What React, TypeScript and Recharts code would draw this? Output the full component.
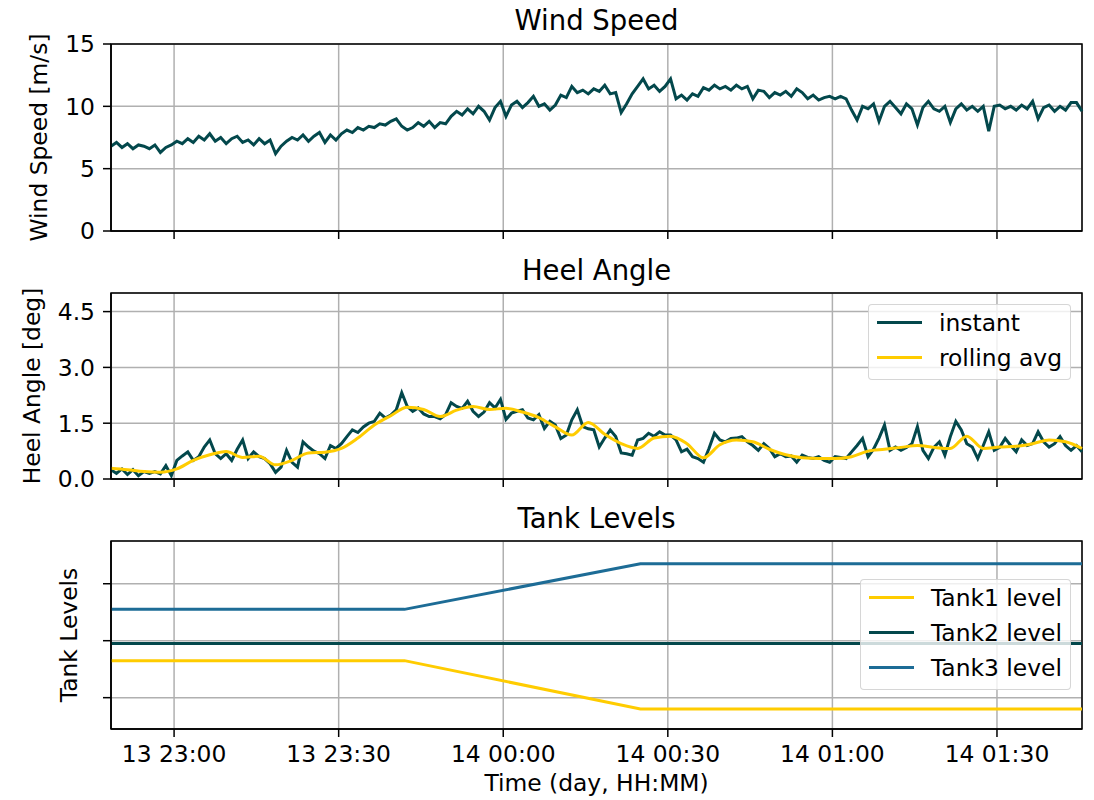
import {
    LineChart,
    Line,
    XAxis,
    YAxis,
    CartesianGrid,
    ReferenceArea,
    Legend
} from "recharts";

// time is in minutes counted from 13 00:00, one sample per minute
const T0 = 1368.5;
const T1 = 1545.5;
const timeTicks = [1380, 1410, 1440, 1470, 1500, 1530];

const windSpeed = [
    6.8, 7.1, 6.7, 7.0, 6.6, 6.9, 6.8, 6.6, 6.9, 6.3,
    6.7, 6.9, 7.2, 7.0, 7.4, 7.1, 7.6, 7.3, 7.8, 7.2,
    7.5, 7.0, 7.4, 7.6, 7.1, 7.3, 6.9, 7.4, 7.0, 7.3,
    6.2, 6.8, 7.2, 7.5, 7.3, 7.7, 7.2, 7.6, 7.9, 7.1,
    7.7, 7.3, 7.8, 8.1, 7.9, 8.3, 8.1, 8.4, 8.3, 8.6,
    8.5, 8.8, 9.0, 8.4, 8.1, 8.3, 8.7, 8.4, 8.8, 8.3,
    8.7, 8.6, 9.2, 9.6, 9.3, 9.8, 9.4, 10.0, 9.6, 8.9,
    9.9, 10.4, 9.2, 10.1, 10.4, 9.9, 10.3, 10.8, 10.0, 10.2,
    9.7, 10.1, 10.9, 10.7, 11.6, 11.1, 11.3, 11.0, 11.4, 11.2,
    11.7, 11.0, 11.1, 9.5, 10.2, 11.0, 11.6, 12.2, 11.4, 11.7,
    11.2, 11.6, 12.2, 10.6, 10.9, 10.5, 11.0, 10.8, 11.5, 11.3,
    11.7, 11.4, 11.6, 11.3, 11.7, 11.4, 11.6, 10.6, 11.3, 11.2,
    10.7, 11.1, 10.9, 11.2, 10.8, 11.4, 11.1, 10.6, 10.9, 10.5,
    10.7, 10.8, 10.6, 10.8, 10.6, 9.7, 8.9, 10.0, 9.8, 10.2,
    8.8, 10.0, 10.4, 9.9, 9.4, 10.2, 9.8, 8.5, 9.9, 10.4,
    9.8, 9.6, 10.0, 8.7, 9.8, 10.2, 9.7, 10.0, 9.6, 10.0,
    8.0, 10.0, 10.1, 9.8, 10.0, 9.7, 10.1, 9.8, 10.4, 9.0,
    9.9, 10.1, 9.6, 10.0, 9.7, 10.3, 10.3, 9.6
];

const heelInstant = [
    0.25, 0.15, 0.27, 0.12, 0.25, 0.09, 0.2, 0.15, 0.2, 0.14,
    0.36, 0.09, 0.5, 0.62, 0.73, 0.5, 0.6, 0.86, 1.05, 0.68,
    0.55, 0.68, 0.5, 0.8, 1.05, 0.55, 0.73, 0.6, 0.55, 0.41,
    0.18, 0.32, 0.77, 0.45, 0.32, 1.0, 0.86, 0.75, 0.68, 0.55,
    0.9, 0.82, 0.95, 1.14, 1.32, 1.25, 1.4, 1.5, 1.55, 1.77,
    1.64, 1.72, 1.86, 2.32, 1.95, 1.82, 1.91, 1.75, 1.68, 1.68,
    1.62, 1.73, 2.05, 1.95, 1.9, 2.09, 1.82, 1.68, 1.8, 2.05,
    1.91, 2.14, 1.6, 1.77, 1.82, 1.86, 1.64, 1.59, 1.73, 1.36,
    1.55, 1.45, 1.09, 1.18, 1.59, 1.86, 1.41, 1.35, 1.32, 0.86,
    1.1, 1.32, 1.14, 0.7, 0.68, 0.64, 1.05, 1.09, 1.23, 1.15,
    1.27, 1.18, 1.18, 1.05, 0.73, 0.8, 0.6, 0.55, 0.45, 0.82,
    1.23, 1.05, 1.0, 1.09, 1.1, 1.14, 1.0, 0.9, 0.77, 0.95,
    0.82, 0.6, 0.68, 0.6, 0.62, 0.45, 0.64, 0.58, 0.55, 0.6,
    0.5, 0.45, 0.6, 0.58, 0.55, 0.73, 0.9, 1.09, 0.6, 0.8,
    1.1, 1.45, 0.77, 0.86, 0.77, 0.85, 0.95, 1.41, 0.77, 0.55,
    0.85, 1.0, 0.64, 1.14, 1.55, 1.32, 0.95, 0.86, 0.55, 0.9,
    1.27, 0.77, 0.85, 1.09, 0.9, 0.73, 1.05, 0.9, 0.95, 1.27,
    1.0, 0.86, 0.95, 1.14, 0.9, 0.77, 0.9, 0.73
];

// rolling average, one value every 3 minutes
const heelRolling = [
    0.29, 0.25, 0.2, 0.18, 0.27, 0.5, 0.65, 0.74, 0.58, 0.61,
    0.38, 0.5, 0.7, 0.72, 0.82, 1.1, 1.45, 1.7, 1.93, 1.87,
    1.68, 1.85, 1.95, 1.87, 1.9, 1.8, 1.65, 1.4, 1.18, 1.52,
    1.2, 0.95, 0.82, 1.1, 1.15, 0.95, 0.57, 0.92, 1.05, 1.0,
    0.8, 0.65, 0.57, 0.55, 0.55, 0.6, 0.75, 0.8, 0.85, 0.9,
    0.85, 0.82, 1.15, 0.82, 0.86, 0.88, 0.95, 1.05, 1.0, 0.82
];

const tankTimes = [1368.5, 1422, 1465, 1545.5];
const tank1 = [33, 33, 16, 16];
const tank2 = [39, 39, 39, 39];
const tank3 = [51, 51, 67, 67];

const windTicks = [0, 5, 10, 15];
const heelTicks = [0, 1.5, 3, 4.5];
const tankTicks = [20, 40, 60];

const sampleRows = windSpeed.map((w, i) => ({ t: T0 + i, wind: w, heel: heelInstant[i] }));
const rollingRows = heelRolling.map((v, i) => ({ t: T0 + 3 * i, avg: v }));
const tankRows = tankTimes.map((t, i) => ({ t, tank1: tank1[i], tank2: tank2[i], tank3: tank3[i] }));

const FONT = '"DejaVu Sans", sans-serif';
const TEXT_SIZE = 23.4;
const TITLE_SIZE = 27.5;
const TEAL = "#03484c";
const YELLOW = "#ffcc00";
const BLUE = "#1d6c96";
const W = 1094;

const tickStyle = { fill: "#000", fontSize: TEXT_SIZE, fontFamily: FONT };
const lineStyle = { stroke: "#000", strokeWidth: 1.5 };

function timeLabel(m: number) {
    const day = 13 + Math.floor(m / 1440);
    const mins = m % 1440;
    const hh = String(Math.floor(mins / 60)).padStart(2, "0");
    const mm = String(mins % 60).padStart(2, "0");
    return `${day} ${hh}:${mm}`;
}

function LegendBox(props: any) {
    const { payload } = props;
    return (
        <div style={{
            background: "rgba(255,255,255,0.8)",
            border: "1.5px solid rgba(204,204,204,0.8)",
            borderRadius: 4,
            padding: "0 8px 4px 8px",
            fontFamily: FONT,
            fontSize: TEXT_SIZE,
            color: "#000",
            whiteSpace: "nowrap"
        }}>
            {(payload || []).map((entry: any) => (
                <div key={entry.value} style={{ display: "flex", alignItems: "center", height: 35 }}>
                    <span style={{ display: "inline-block", width: 45, height: 3, background: entry.color, marginRight: 17 }} />
                    <span>{entry.value}</span>
                </div>
            ))}
        </div>
    );
}

function timeAxis(showLabels: boolean, height: number) {
    return (
        <XAxis
            dataKey="t"
            type="number"
            domain={[T0, T1]}
            ticks={timeTicks}
            interval={0}
            height={height}
            tickSize={8}
            tickMargin={8}
            tick={tickStyle}
            tickLine={lineStyle}
            axisLine={lineStyle}
            tickFormatter={(v: number) => (showLabels ? timeLabel(v) : "")}
        />
    );
}

export default function App() {
    return (
        <div style={{ position: "absolute", left: 0, top: 0, width: W, height: 800, background: "#fff" }}>

            {/* Wind speed */}
            <div style={{ position: "absolute", left: 0, top: 0 }}>
                <LineChart width={W} height={270} data={sampleRows} margin={{ top: 44, right: 12, left: 0, bottom: 0 }}>
                    <CartesianGrid stroke="#b0b0b0" strokeWidth={1.5} />
                    {timeAxis(false, 39)}
                    <YAxis
                        type="number"
                        domain={[0, 15]}
                        ticks={windTicks}
                        interval={0}
                        width={111}
                        tickSize={8}
                        tickMargin={8}
                        tick={tickStyle}
                        tickLine={lineStyle}
                        axisLine={lineStyle}
                    />
                    <Line type="linear" dataKey="wind" stroke={TEAL} strokeWidth={3} dot={false} activeDot={false} isAnimationActive={false} />
                    <ReferenceArea x1={T0} x2={T1} y1={0} y2={15} fill="none" stroke="#000" strokeWidth={1.5} />
                </LineChart>
            </div>

            {/* Heel angle */}
            <div style={{ position: "absolute", left: 0, top: 249 }}>
                <LineChart width={W} height={269} data={sampleRows} margin={{ top: 44, right: 12, left: 0, bottom: 0 }}>
                    <CartesianGrid stroke="#b0b0b0" strokeWidth={1.5} />
                    {timeAxis(false, 39)}
                    <YAxis
                        type="number"
                        domain={[0, 5]}
                        ticks={heelTicks}
                        interval={0}
                        width={111}
                        tickSize={8}
                        tickMargin={8}
                        tick={tickStyle}
                        tickLine={lineStyle}
                        axisLine={lineStyle}
                        tickFormatter={(v: number) => v.toFixed(1)}
                    />
                    <Line type="linear" dataKey="heel" name="instant" stroke={TEAL} strokeWidth={3} dot={false} activeDot={false} isAnimationActive={false} />
                    <Line type="monotone" data={rollingRows} dataKey="avg" name="rolling avg" stroke={YELLOW} strokeWidth={3} dot={false} activeDot={false} isAnimationActive={false} />
                    <ReferenceArea x1={T0} x2={T1} y1={0} y2={5} fill="none" stroke="#000" strokeWidth={1.5} />
                    <Legend
                        layout="vertical"
                        align="center"
                        verticalAlign="middle"
                        content={LegendBox}
                        wrapperStyle={{ left: "auto", right: 23, top: 55, width: "auto", height: "auto" }}
                    />
                </LineChart>
            </div>

            {/* Tank levels */}
            <div style={{ position: "absolute", left: 0, top: 497 }}>
                <LineChart width={W} height={303} data={tankRows} margin={{ top: 44, right: 12, left: 0, bottom: 31 }}>
                    <CartesianGrid stroke="#b0b0b0" strokeWidth={1.5} />
                    {timeAxis(true, 40)}
                    <YAxis
                        type="number"
                        domain={[9, 75]}
                        ticks={tankTicks}
                        interval={0}
                        width={111}
                        tickSize={8}
                        tickMargin={8}
                        tick={tickStyle}
                        tickLine={lineStyle}
                        axisLine={lineStyle}
                        tickFormatter={() => ""}
                    />
                    <Line type="linear" dataKey="tank1" name="Tank1 level" stroke={YELLOW} strokeWidth={3} dot={false} activeDot={false} isAnimationActive={false} />
                    <Line type="linear" dataKey="tank2" name="Tank2 level" stroke={TEAL} strokeWidth={3} dot={false} activeDot={false} isAnimationActive={false} />
                    <Line type="linear" dataKey="tank3" name="Tank3 level" stroke={BLUE} strokeWidth={3} dot={false} activeDot={false} isAnimationActive={false} />
                    <ReferenceArea x1={T0} x2={T1} y1={9} y2={75} fill="none" stroke="#000" strokeWidth={1.5} />
                    <Legend
                        layout="vertical"
                        align="center"
                        verticalAlign="middle"
                        content={LegendBox}
                        wrapperStyle={{ left: "auto", right: 23, top: 82, width: "auto", height: "auto" }}
                    />
                </LineChart>
            </div>

            {/* Titles and axis labels */}
            <svg width={W} height={800} style={{ position: "absolute", left: 0, top: 0, pointerEvents: "none" }}>
                <g fontFamily={FONT} fill="#000">
                    <text x={596.5} y={30} fontSize={TITLE_SIZE} textAnchor="middle">Wind Speed</text>
                    <text x={596.5} y={279.5} fontSize={TITLE_SIZE} textAnchor="middle">Heel Angle</text>
                    <text x={596.5} y={527.5} fontSize={TITLE_SIZE} textAnchor="middle">Tank Levels</text>
                    <text x={46.5} y={137.5} fontSize={TEXT_SIZE} textAnchor="middle" transform="rotate(-90 46.5 137.5)">Wind Speed [m/s]</text>
                    <text x={39.5} y={386} fontSize={TEXT_SIZE} textAnchor="middle" transform="rotate(-90 39.5 386)">Heel Angle [deg]</text>
                    <text x={76.5} y={635} fontSize={TEXT_SIZE} textAnchor="middle" transform="rotate(-90 76.5 635)">Tank Levels</text>
                    <text x={596.5} y={791} fontSize={TEXT_SIZE} textAnchor="middle">Time (day, HH:MM)</text>
                </g>
            </svg>
        </div>
    );
}
